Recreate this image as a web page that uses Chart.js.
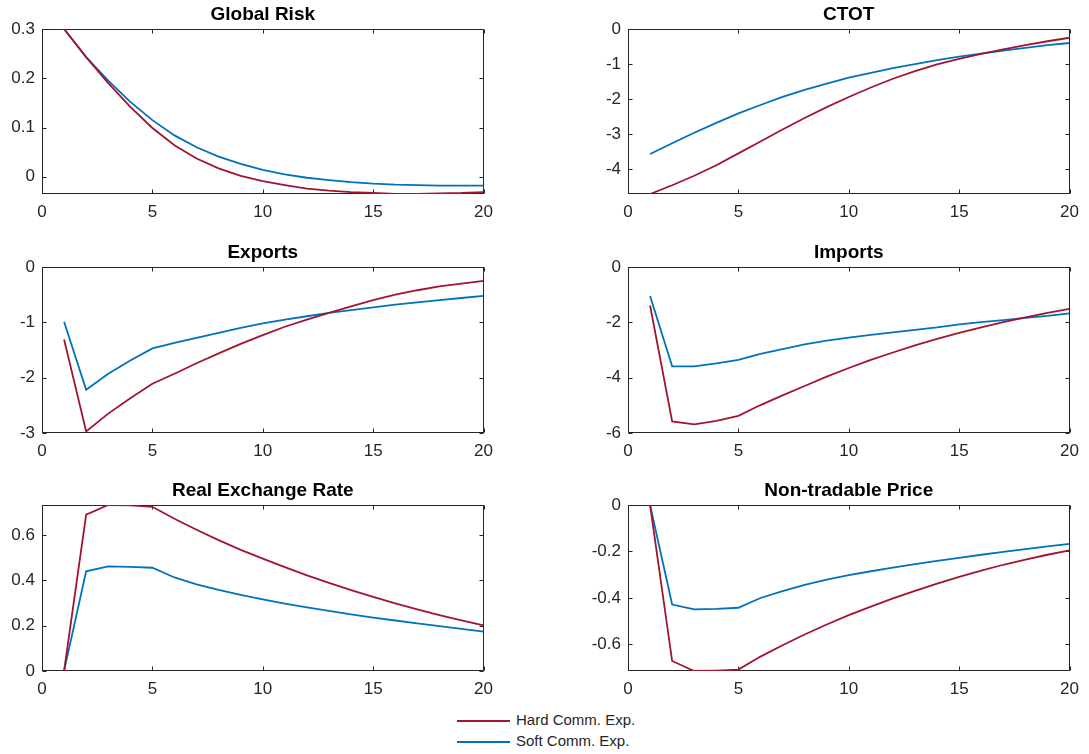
<!DOCTYPE html>
<html>
<head>
<meta charset="utf-8">
<script src="https://cdn.jsdelivr.net/npm/chart.js@4.4.1/dist/chart.umd.min.js"></script>
<style>
  html, body { margin: 0; padding: 0; background: #ffffff; }
  body { width: 1089px; height: 754px; position: relative; overflow: hidden;
         font-family: "Liberation Sans", Arial, Helvetica, sans-serif; }
  .panel { position: absolute; }
  .legend { position: absolute; left: 452px; top: 710px; font-size: 15px; color: #262626; }
  .legend .row { position: relative; height: 20.6px; line-height: 20.6px; padding-left: 64px; white-space: nowrap; }
  .legend .swatch { position: absolute; left: 5px; top: 10px; width: 53px; height: 2px; }
</style>
</head>
<body>
<canvas id="c1" class="panel"></canvas>
<canvas id="c2" class="panel"></canvas>
<canvas id="c3" class="panel"></canvas>
<canvas id="c4" class="panel"></canvas>
<canvas id="c5" class="panel"></canvas>
<canvas id="c6" class="panel"></canvas>
<div class="legend">
  <div class="row"><span class="swatch" style="background:#A2142F"></span>Hard Comm. Exp.</div>
  <div class="row"><span class="swatch" style="background:#0072BD"></span>Soft Comm. Exp.</div>
</div>
<script>
// Horizon (quarters after the shock)
const periods = [1, 2, 3, 4, 5, 6, 7, 8, 9, 10, 11, 12, 13, 14, 15, 16, 17, 18, 19, 20];
const xTicks = [0, 5, 10, 15, 20];

const seriesNames = ['Hard Comm. Exp.', 'Soft Comm. Exp.'];
const seriesColors = ['#A2142F', '#0072BD'];

// Global Risk
const riskHard = [0.300, 0.243, 0.190, 0.142, 0.099, 0.064, 0.037, 0.017, 0.002, -0.009, -0.017, -0.024, -0.028, -0.031, -0.033, -0.035, -0.035, -0.034, -0.033, -0.031];
const riskSoft = [0.300, 0.243, 0.195, 0.152, 0.115, 0.084, 0.060, 0.041, 0.026, 0.014, 0.005, -0.002, -0.007, -0.011, -0.014, -0.016, -0.017, -0.018, -0.018, -0.018];
const riskTicks = [0, 0.1, 0.2, 0.3];

// CTOT
const ctotHard = [-4.71, -4.46, -4.19, -3.89, -3.55, -3.21, -2.87, -2.54, -2.23, -1.94, -1.67, -1.42, -1.20, -1.01, -0.85, -0.71, -0.58, -0.46, -0.35, -0.25];
const ctotSoft = [-3.57, -3.26, -2.96, -2.68, -2.41, -2.17, -1.94, -1.74, -1.56, -1.39, -1.25, -1.12, -1.00, -0.89, -0.79, -0.70, -0.62, -0.54, -0.46, -0.40];
const ctotTicks = [-4, -3, -2, -1, 0];

// Exports
const expHard = [-1.31, -2.97, -2.65, -2.37, -2.11, -1.93, -1.74, -1.56, -1.39, -1.23, -1.08, -0.95, -0.83, -0.71, -0.60, -0.50, -0.42, -0.35, -0.30, -0.25];
const expSoft = [-0.99, -2.22, -1.93, -1.69, -1.47, -1.37, -1.28, -1.19, -1.10, -1.02, -0.95, -0.89, -0.83, -0.78, -0.73, -0.68, -0.64, -0.60, -0.56, -0.52];
const expTicks = [-3, -2, -1, 0];

// Imports
const impHard = [-1.39, -5.58, -5.69, -5.56, -5.38, -4.99, -4.64, -4.30, -3.96, -3.65, -3.36, -3.09, -2.83, -2.60, -2.38, -2.18, -1.99, -1.82, -1.66, -1.51];
const impSoft = [-1.05, -3.59, -3.59, -3.48, -3.36, -3.14, -2.97, -2.80, -2.66, -2.55, -2.45, -2.36, -2.27, -2.18, -2.07, -1.99, -1.92, -1.84, -1.77, -1.68];
const impTicks = [-6, -4, -2, 0];

// Real Exchange Rate
const rerHard = [0, 0.690, 0.733, 0.731, 0.725, 0.672, 0.624, 0.578, 0.535, 0.496, 0.459, 0.422, 0.389, 0.357, 0.327, 0.299, 0.272, 0.247, 0.224, 0.201];
const rerSoft = [0, 0.440, 0.462, 0.460, 0.456, 0.413, 0.383, 0.358, 0.336, 0.316, 0.298, 0.281, 0.265, 0.250, 0.236, 0.223, 0.210, 0.198, 0.186, 0.174];
const rerTicks = [0, 0.2, 0.4, 0.6];

// Non-tradable Price
const ntpHard = [0, -0.671, -0.714, -0.712, -0.708, -0.652, -0.603, -0.557, -0.514, -0.474, -0.437, -0.402, -0.369, -0.338, -0.309, -0.282, -0.257, -0.235, -0.214, -0.195];
const ntpSoft = [0, -0.428, -0.449, -0.447, -0.442, -0.400, -0.370, -0.344, -0.321, -0.302, -0.285, -0.269, -0.254, -0.240, -0.227, -0.214, -0.202, -0.190, -0.178, -0.167];
const ntpTicks = [-0.6, -0.4, -0.2, 0];

const FONT = '"Liberation Sans", Arial, Helvetica, sans-serif';
const AXIS_COLOR = '#262626';
const TICK_LEN = 4;

// Boxed axes with inward tick marks on all four sides
const framePlugin = {
  id: 'frame',
  beforeDatasetsDraw(chart) {
    const { ctx, chartArea: a, scales } = chart;
    const L = Math.round(a.left) + 0.5, R = Math.round(a.right) - 0.5;
    const T = Math.round(a.top) + 0.5, B = Math.round(a.bottom) - 0.5;
    ctx.save();
    ctx.strokeStyle = AXIS_COLOR;
    ctx.lineWidth = 1;
    ctx.strokeRect(L, T, R - L, B - T);
    ctx.beginPath();
    scales.x.ticks.forEach(t => {
      const px = Math.round(scales.x.getPixelForValue(t.value)) + 0.5;
      ctx.moveTo(px, B); ctx.lineTo(px, B - TICK_LEN);
      ctx.moveTo(px, T); ctx.lineTo(px, T + TICK_LEN);
    });
    scales.y.ticks.forEach(t => {
      const py = Math.round(scales.y.getPixelForValue(t.value)) + 0.5;
      ctx.moveTo(L, py); ctx.lineTo(L + TICK_LEN, py);
      ctx.moveTo(R, py); ctx.lineTo(R - TICK_LEN, py);
    });
    ctx.stroke();
    ctx.restore();
  }
};

function makePanel(id, box, title, hard, soft, yTicks, yMin, yMax) {
  const el = document.getElementById(id);
  el.style.left = box.left + 'px';
  el.style.top = box.top + 'px';
  el.style.width = box.width + 'px';
  el.style.height = box.height + 'px';
  el.width = box.width;
  el.height = box.height;
  const series = [hard, soft];
  return new Chart(el, {
    type: 'line',
    data: {
      datasets: series.map((vals, i) => ({
        label: seriesNames[i],
        data: periods.map((p, k) => ({ x: p, y: vals[k] })),
        borderColor: seriesColors[i],
        borderWidth: 1.8,
        pointRadius: 0,
        tension: 0,
        fill: false
      }))
    },
    options: {
      responsive: false,
      animation: false,
      devicePixelRatio: 1,
      layout: { padding: { left: 0, right: 14, top: 0, bottom: 0 } },
      plugins: {
        legend: { display: false },
        tooltip: { enabled: false },
        title: {
          display: true,
          fullSize: false,
          text: title,
          color: '#000000',
          font: { family: FONT, size: 19, weight: 'bold', lineHeight: 1.2 },
          padding: { top: 3, bottom: 3.2 }
        }
      },
      scales: {
        x: {
          type: 'linear',
          min: 0, max: 20,
          afterBuildTicks: s => { s.ticks = xTicks.map(v => ({ value: v })); },
          afterFit: s => { s.height = 36; },
          grid: { display: false, drawTicks: false },
          border: { display: false },
          ticks: { autoSkip: false, maxRotation: 0, padding: 8, color: AXIS_COLOR,
                   font: { family: FONT, size: 17 }, callback: v => String(v) }
        },
        y: {
          type: 'linear',
          min: yMin, max: yMax,
          afterBuildTicks: s => { s.ticks = yTicks.map(v => ({ value: v })); },
          afterFit: s => { s.width = 42; },
          grid: { display: false, drawTicks: false },
          border: { display: false },
          ticks: { autoSkip: false, padding: 7, color: AXIS_COLOR,
                   font: { family: FONT, size: 17 }, callback: v => String(v) }
        }
      }
    },
    plugins: [framePlugin]
  });
}

const colLeft = [0, 586];
const rowTop = [0, 238, 476];
const rowHeight = [230, 231, 231];
const panelW = 501;
const boxAt = (r, c) => ({ left: colLeft[c], top: rowTop[r], width: panelW, height: rowHeight[r] });

makePanel('c1', boxAt(0, 0), 'Global Risk', riskHard, riskSoft, riskTicks, -0.035, 0.3);
makePanel('c2', boxAt(0, 1), 'CTOT', ctotHard, ctotSoft, ctotTicks, -4.71, 0);
makePanel('c3', boxAt(1, 0), 'Exports', expHard, expSoft, expTicks, -3, 0);
makePanel('c4', boxAt(1, 1), 'Imports', impHard, impSoft, impTicks, -6, 0);
makePanel('c5', boxAt(2, 0), 'Real Exchange Rate', rerHard, rerSoft, rerTicks, 0, 0.733);
makePanel('c6', boxAt(2, 1), 'Non-tradable Price', ntpHard, ntpSoft, ntpTicks, -0.714, 0);
</script>
</body>
</html>
